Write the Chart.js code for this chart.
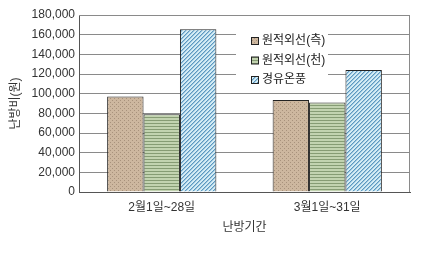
<!DOCTYPE html>
<html>
<head>
<meta charset="utf-8">
<script src="https://cdn.jsdelivr.net/npm/chart.js@4/dist/chart.umd.min.js"></script>
<style>
  body { margin: 0; background: #fff; }
  #wrap { width: 425px; height: 255px; }
</style>
</head>
<body>
<div id="wrap"><canvas id="heatChart" width="425" height="255"></canvas></div>
<script>
const labels = ['2월1일~28일', '3월1일~31일'];
const sideValues = [97000, 93500];
const ceilValues = [79000, 91000];
const dieselValues = [165500, 124000];
const seriesNames = ['원적외선(측)', '원적외선(천)', '경유온풍'];
const yTicks = [0, 20000, 40000, 60000, 80000, 100000, 120000, 140000, 160000, 180000];

const FONT = 'Arial, "Liberation Sans", "Noto Sans CJK KR", sans-serif';

// little pattern tiles for the bar fills
function makePattern(size, draw) {
        const c = document.createElement('canvas');
        c.width = size; c.height = size;
        const g = c.getContext('2d');
        draw(g, size);
        return document.getElementById('heatChart').getContext('2d').createPattern(c, 'repeat');
}

const dots = makePattern(4, (g, s) => {
        g.fillStyle = '#cdb79f';
        g.fillRect(0, 0, s, s);
        g.fillStyle = '#a8927c';
        g.fillRect(0, 0, 1, 1);
        g.fillRect(2, 2, 1, 1);
});
const stripes = makePattern(3, (g, s) => {
        g.fillStyle = '#c2d3b0';
        g.fillRect(0, 0, s, s);
        g.fillStyle = '#869c74';
        g.fillRect(0, 0, s, 1);
});
const hatch = makePattern(4, (g, s) => {
        g.fillStyle = '#d4ecf5';
        g.fillRect(0, 0, s, s);
        g.fillStyle = '#5c98c0';
        for (let i = 0; i < s; i++) g.fillRect((s - 1 - i) % s, i, 1, 1);
        g.fillStyle = '#9cc6de';
        for (let i = 0; i < s; i++) g.fillRect((s - i) % s, i, 1, 1);
});
const fills = [dots, stripes, hatch];

// legend drawn inside the plot, on a white box
const innerLegend = {
        id: 'innerLegend',
        afterDatasetsDraw(chart) {
                const ctx = chart.ctx;
                ctx.save();
                ctx.fillStyle = '#fff';
                ctx.fillRect(236, 30, 92, 59);
                ctx.font = '12px ' + FONT;
                ctx.textBaseline = 'middle';
                chart.data.datasets.forEach((ds, i) => {
                        const y = 41 + i * 19.5;
                        ctx.fillStyle = fills[i];
                        ctx.fillRect(251.5, y - 3.5, 7, 7);
                        ctx.strokeStyle = '#222';
                        ctx.lineWidth = 1;
                        ctx.strokeRect(251.5, y - 3.5, 7, 7);
                        ctx.fillStyle = '#222';
                        ctx.fillText(ds.label, 262, y);
                });
                ctx.restore();
        }
};

// box round the plot (top and right edges)
const frame = {
        id: 'frame',
        beforeDatasetsDraw(chart) {
                const a = chart.chartArea, ctx = chart.ctx;
                ctx.save();
                ctx.strokeStyle = '#8a8a8a';
                ctx.lineWidth = 1;
                ctx.beginPath();
                ctx.moveTo(a.left, a.top + 0.5);
                ctx.lineTo(a.right - 0.5, a.top + 0.5);
                ctx.lineTo(a.right - 0.5, a.bottom);
                ctx.stroke();
                ctx.restore();
        }
};

const data = {
        labels,
        datasets: [sideValues, ceilValues, dieselValues].map((vals, i) => ({
                label: seriesNames[i],
                data: vals,
                backgroundColor: fills[i],
                borderColor: '#222',
                borderWidth: 1,
                borderSkipped: 'bottom',
                barPercentage: 1.0,
                categoryPercentage: 0.66,
        })),
};

const config = {
        type: 'bar',
        data,
        plugins: [frame, innerLegend],
        options: {
                responsive: false,
                animation: false,
                layout: { padding: { top: 15, right: 15, left: 8, bottom: 16 } },
                plugins: {
                        legend: { display: false },
                        tooltip: { enabled: false },
                },
                scales: {
                        y: {
                                min: 0,
                                max: 180000,
                                afterBuildTicks: (axis) => { axis.ticks = yTicks.map(v => ({ value: v })); },
                                afterFit: (axis) => { axis.width = 71; },
                                ticks: {
                                        color: '#333',
                                        font: { family: FONT, size: 12 },
                                        padding: 4,
                                        callback: (v) => v.toLocaleString('en-US'),
                                },
                                grid: { color: '#8a8a8a', drawTicks: false },
                                border: { color: '#555' },
                                title: {
                                        display: true,
                                        text: '난방비(원)',
                                        color: '#333',
                                        font: { family: FONT, size: 12 },
                                        padding: { top: 0, bottom: 2 },
                                },
                        },
                        x: {
                                afterFit: (axis) => { axis.height = 47; },
                                ticks: {
                                        color: '#333',
                                        font: { family: FONT, size: 12 },
                                        padding: 8,
                                },
                                grid: { display: false, drawTicks: false },
                                border: { color: '#555' },
                                title: {
                                        display: true,
                                        text: '난방기간',
                                        color: '#333',
                                        font: { family: FONT, size: 12 },
                                        padding: { top: 4, bottom: 4 },
                                },
                        },
                },
        },
};

const heatChart = new Chart(document.getElementById('heatChart'), config);
</script>
</body>
</html>
